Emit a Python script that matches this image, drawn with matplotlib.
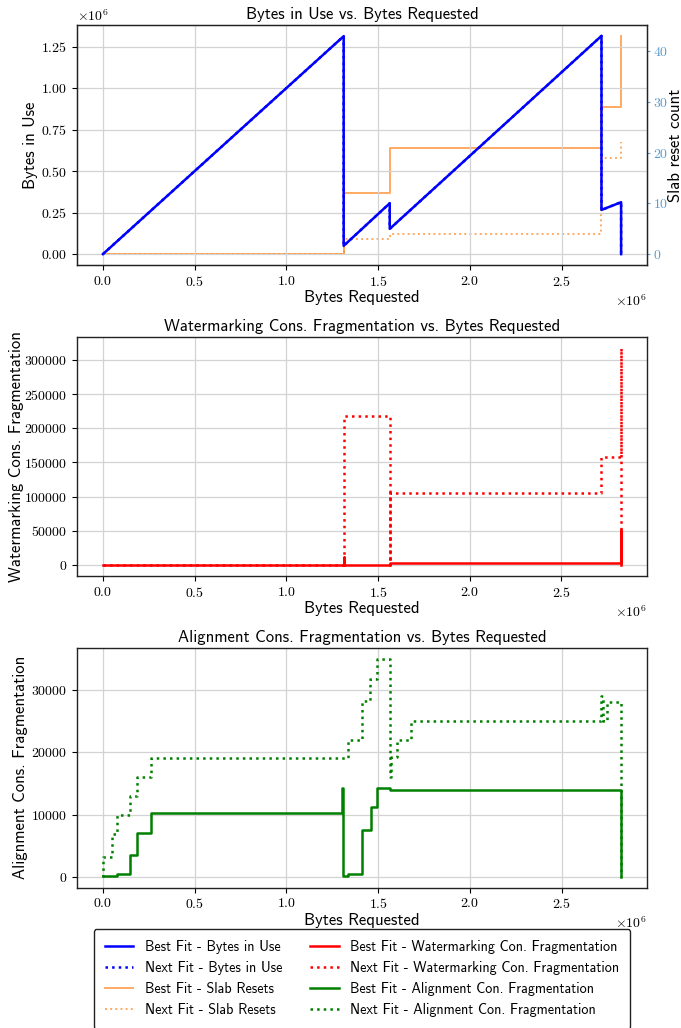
import numpy as np
import matplotlib
matplotlib.use('Agg')
import matplotlib.pyplot as plt
from matplotlib.ticker import MultipleLocator

plt.rcParams['font.family'] = 'cmr10'
plt.rcParams['mathtext.fontset'] = 'cm'
plt.rcParams['axes.formatter.use_mathtext'] = True
plt.rcParams['axes.unicode_minus'] = False

SANS = 'cmss10'

# bytes requested (x) and bytes in use (y), vertices of the sawtooth
in_use_x = [0, 1.312e6, 1.312e6, 1.563e6, 1.563e6, 2.717e6, 2.717e6, 2.824e6, 2.824e6]
best_in_use = [0, 1.312e6, 0.050e6, 0.306e6, 0.152e6, 1.314e6, 0.266e6, 0.3125e6, 0]
next_in_use = [0, 1.312e6, 0.050e6, 0.306e6, 0.152e6, 1.314e6, 0.266e6, 0.3125e6, 0]

# slab reset counts (step after each x)
resets_x = [0, 1.312e6, 1.563e6, 2.717e6, 2.824e6]
best_resets = [0, 12, 21, 29, 43]
next_resets = [0, 3, 4, 19, 22]

# watermarking fragmentation (steps)
best_wm_x = [0, 1.312e6, 1.313e6, 1.563e6, 2.824e6, 2.825e6]
best_wm = [0, 11500, 0, 2400, 52000, 0]
next_wm_x = [0, 1.312e6, 1.563e6, 1.565e6, 2.717e6, 2.824e6, 2.825e6]
next_wm = [0, 218000, 0, 105000, 158000, 318000, 0]

# alignment fragmentation (steps)
best_al_x = [0, 0.076e6, 0.149e6, 0.186e6, 0.264e6, 1.300e6, 1.306e6, 1.336e6,
             1.413e6, 1.459e6, 1.491e6, 1.564e6, 2.822e6, 2.823e6]
best_al = [200, 500, 3500, 7100, 10200, 14300, 200, 500,
           7500, 11200, 14300, 14000, 0, 0]
next_al_x = [0, 0.003e6, 0.049e6, 0.076e6, 0.149e6, 0.187e6, 0.264e6, 1.337e6,
             1.413e6, 1.457e6, 1.491e6, 1.564e6, 1.569e6, 1.600e6, 1.676e6,
             2.714e6, 2.727e6, 2.745e6, 2.822e6, 2.823e6]
next_al = [0, 3200, 6900, 10000, 13000, 16000, 19000, 22000,
           28200, 31700, 35000, 16000, 19300, 22000, 25000,
           29000, 25000, 28000, 0, 0]

fig = plt.figure(figsize=(6.81, 10.28), dpi=100)
left, width = 0.1131, 0.837
ax1 = fig.add_axes([left, 0.7422, width, 0.2335])
ax2 = fig.add_axes([left, 0.4397, width, 0.2328])
ax3 = fig.add_axes([left, 0.1365, width, 0.2332])


def style(ax):
    ax.grid(True, color='#d3d3d3', linewidth=0.9)
    ax.set_axisbelow(True)
    for sp in ax.spines.values():
        sp.set_color('#222222')
        sp.set_linewidth(1.0)
    ax.tick_params(labelsize=10)
    ax.set_xlabel('Bytes Requested', fontfamily=SANS, fontsize=12, labelpad=1)


# top: bytes in use + slab resets
l1, = ax1.plot(in_use_x, best_in_use, color='blue', lw=1.8, label='Best Fit - Bytes in Use', zorder=3)
l2, = ax1.plot(in_use_x, next_in_use, color='blue', lw=1.8, ls=':', label='Next Fit - Bytes in Use', zorder=2)
ax1.set_ylabel('Bytes in Use', fontfamily=SANS, fontsize=12, labelpad=2)
ax1.set_title('Bytes in Use vs. Bytes Requested', fontfamily=SANS, fontsize=12, pad=4)
ax1.yaxis.set_major_locator(MultipleLocator(250000))
style(ax1)

ax1r = ax1.twinx()
l3, = ax1r.plot(resets_x, best_resets, drawstyle='steps-post', color='tab:orange', alpha=0.65, lw=1.4,
                label='Best Fit - Slab Resets')
l4, = ax1r.plot(resets_x, next_resets, drawstyle='steps-post', color='tab:orange', alpha=0.65, lw=1.4, ls=':',
                label='Next Fit - Slab Resets')
ax1r.set_ylabel('Slab reset count', fontfamily=SANS, fontsize=12, labelpad=0)
ax1r.tick_params(axis='y', colors='#5b9bd0', labelsize=10, length=2.5, pad=1.5)
for sp in ax1r.spines.values():
    sp.set_color('#222222')
ax1.set_zorder(ax1r.get_zorder() + 1)
ax1.patch.set_visible(False)

# middle: watermarking
l5, = ax2.plot(best_wm_x, best_wm, drawstyle='steps-post', color='red', lw=1.8,
               label='Best Fit - Watermarking Con. Fragmentation', zorder=3)
l6, = ax2.plot(next_wm_x, next_wm, drawstyle='steps-post', color='red', lw=1.8, ls=':',
               label='Next Fit - Watermarking Con. Fragmentation')
ax2.set_ylabel('Watermarking Cons. Fragmentation', fontfamily=SANS, fontsize=12, labelpad=0)
ax2.set_title('Watermarking Cons. Fragmentation vs. Bytes Requested', fontfamily=SANS, fontsize=12, pad=4)
style(ax2)

# bottom: alignment
l7, = ax3.plot(best_al_x, best_al, drawstyle='steps-post', color='green', lw=1.8,
               label='Best Fit - Alignment Con. Fragmentation', zorder=3)
l8, = ax3.plot(next_al_x, next_al, drawstyle='steps-post', color='green', lw=1.8, ls=':',
               label='Next Fit - Alignment Con. Fragmentation')
ax3.set_ylabel('Alignment Cons. Fragmentation', fontfamily=SANS, fontsize=12, labelpad=2)
ax3.set_title('Alignment Cons. Fragmentation vs. Bytes Requested', fontfamily=SANS, fontsize=12, pad=4)
ax3.yaxis.set_major_locator(MultipleLocator(10000))
style(ax3)

handles = [l1, l2, l3, l4, l5, l6, l7, l8]
leg = fig.legend(handles=handles, labels=[h.get_label() for h in handles], ncol=2,
                 loc='upper center', bbox_to_anchor=(0.5316, 0.1035),
                 prop={'family': SANS, 'size': 10.2}, framealpha=1, borderpad=0.8,
                 labelspacing=0.5, columnspacing=2.0)
leg.get_frame().set_edgecolor('#222222')

fig.savefig('out.png', dpi=100)
